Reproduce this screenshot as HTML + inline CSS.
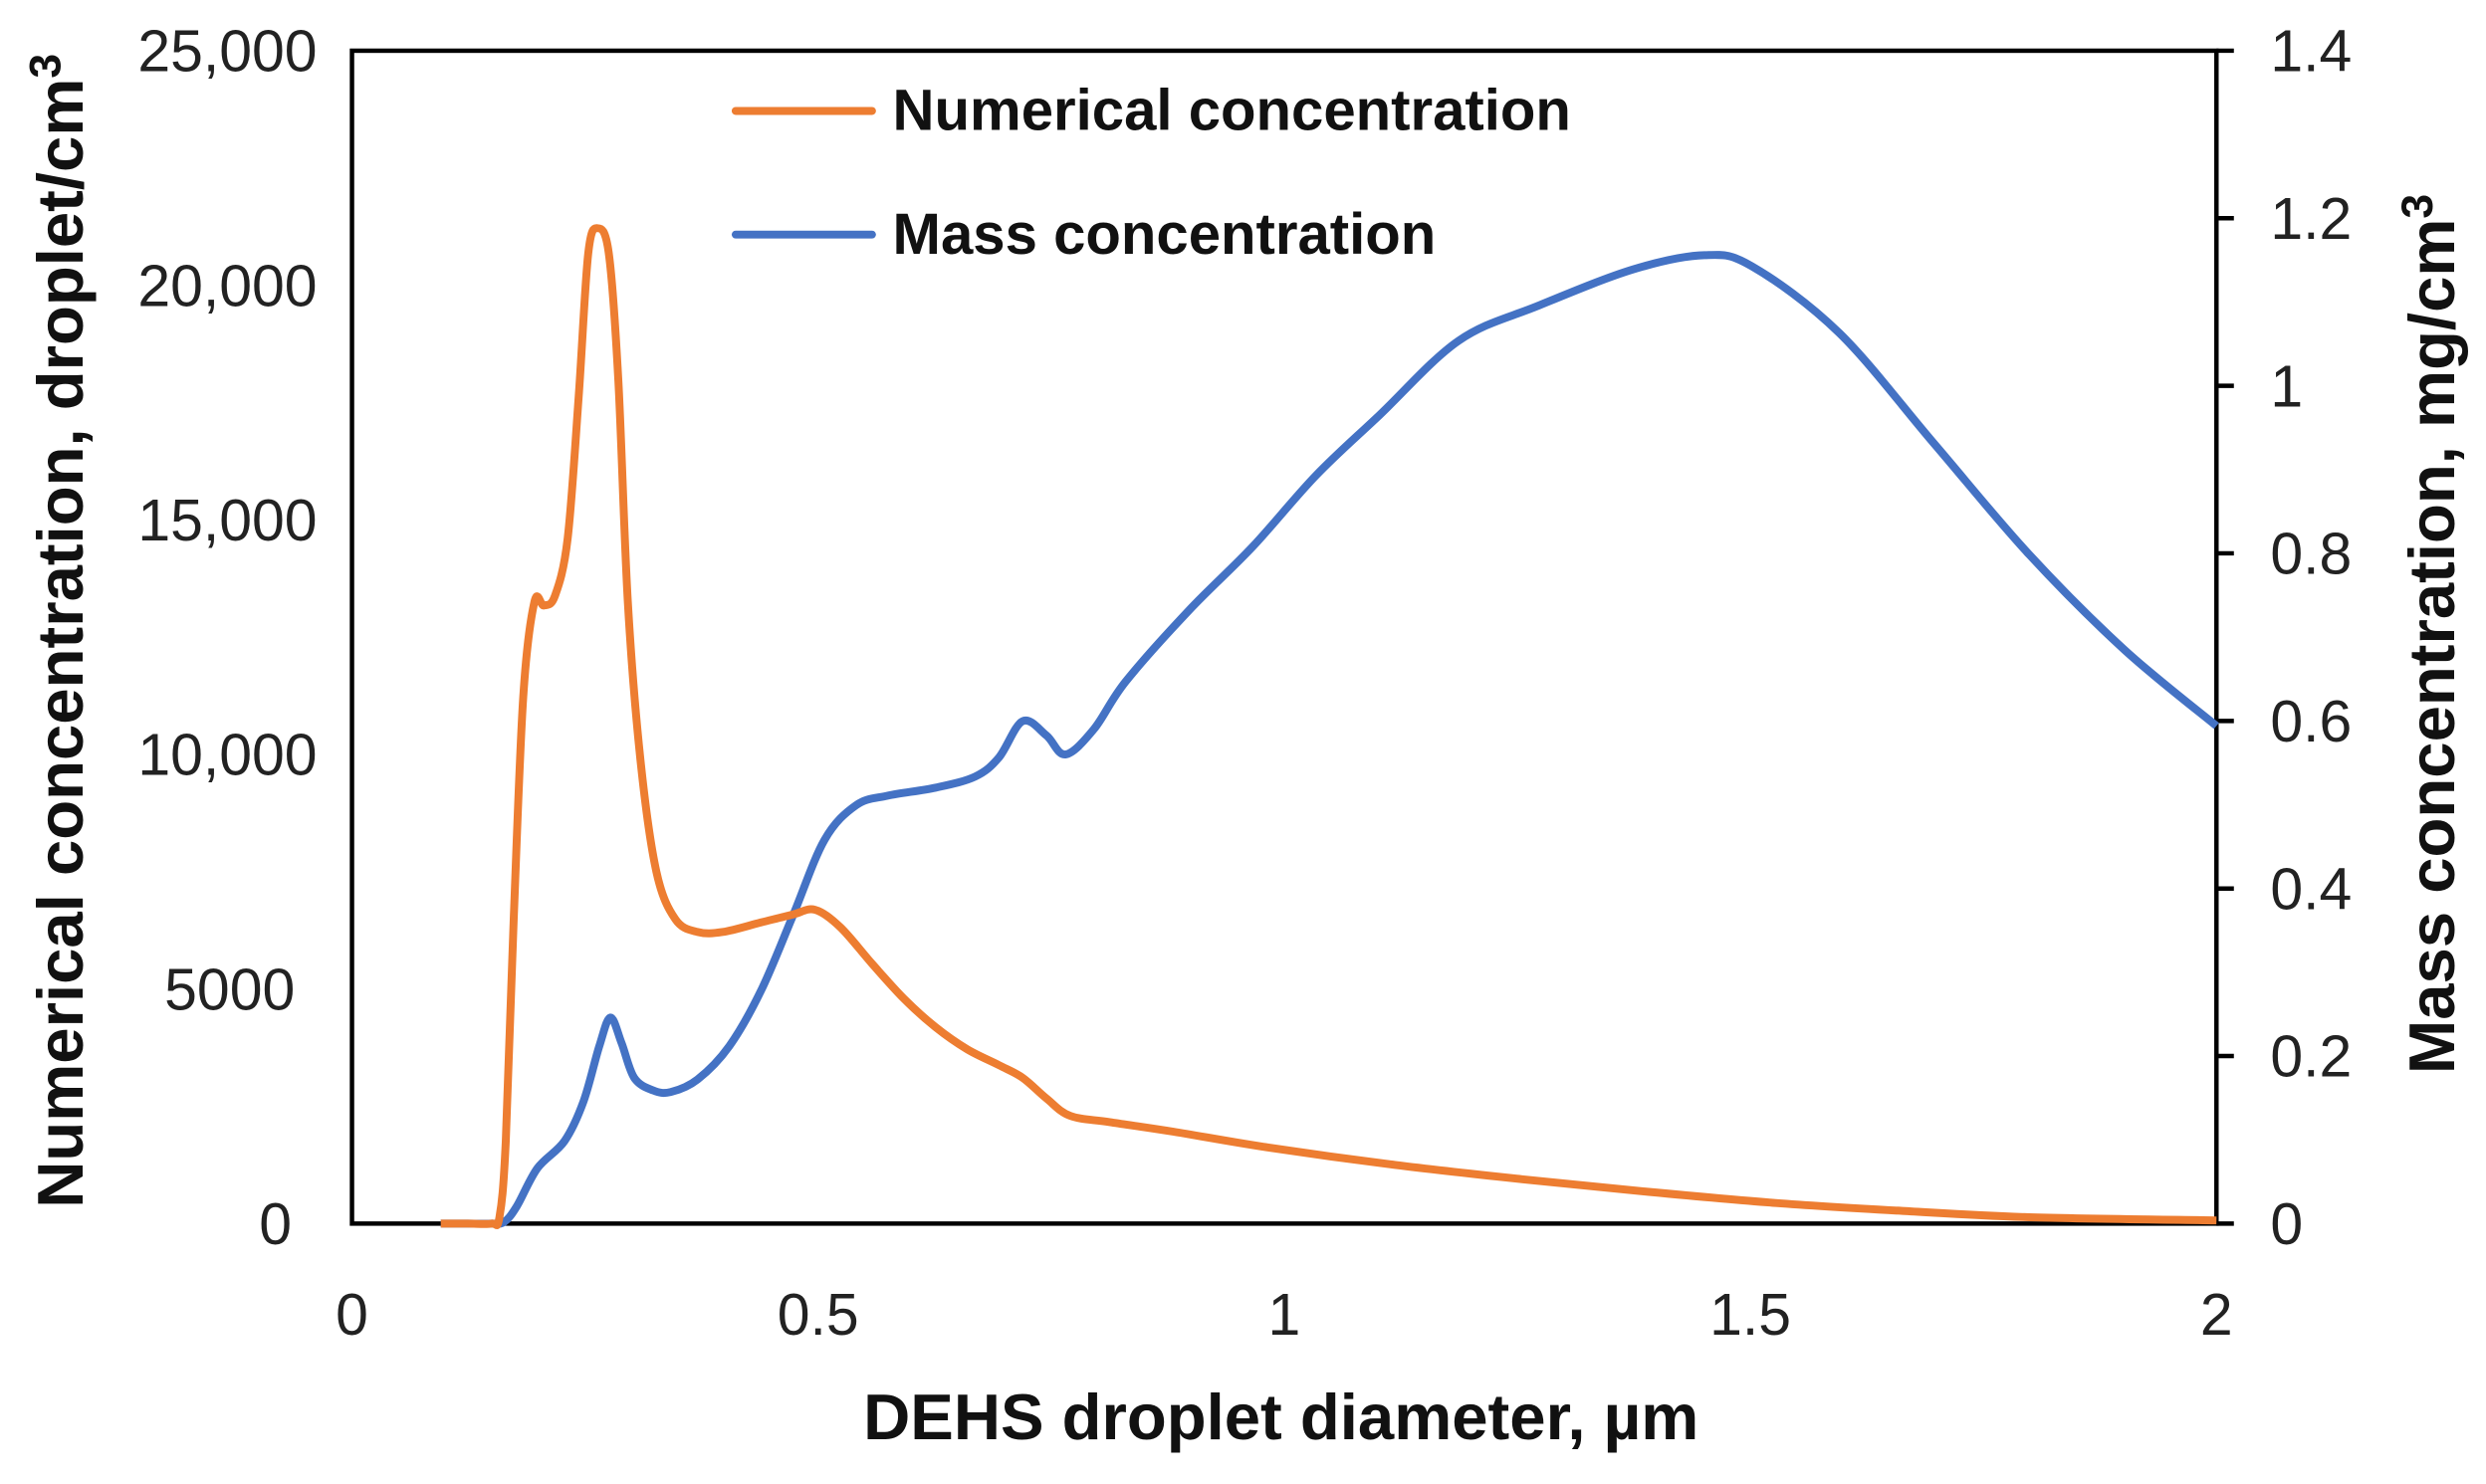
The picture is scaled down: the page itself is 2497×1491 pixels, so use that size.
<!DOCTYPE html>
<html><head><meta charset="utf-8"><style>
html,body{margin:0;padding:0;background:#fff;}
svg{display:block;}
text{font-family:"Liberation Sans",Arial,sans-serif;fill:#222;}
.t{font-size:37px;}
.b{font-size:41px;font-weight:bold;fill:#111;}
.l{font-size:36.5px;font-weight:bold;fill:#111;}
</style></head><body>
<svg id="s" width="2497" height="1491" viewBox="0 0 1568 936.3" xmlns="http://www.w3.org/2000/svg">
<rect x="0" y="0" width="1568" height="937" fill="#fff"/>
<g stroke="#000" stroke-width="2.8" fill="none">
<rect x="222" y="32" width="1176" height="740"/>
<path d="M1398 32h11M1398 137.7h11M1398 243.4h11M1398 349.1h11M1398 454.9h11M1398 560.6h11M1398 666.3h11M1398 772h11"/>
</g>
<g class="t" text-anchor="end">
<text x="200" y="45">25,000</text>
<text x="200" y="193">20,000</text>
<text x="200" y="341">15,000</text>
<text x="200" y="489">10,000</text>
<text x="186" y="637">5000</text>
<text x="184" y="785">0</text>
</g>
<g class="t">
<text x="1432" y="45">1.4</text>
<text x="1432" y="150.7">1.2</text>
<text x="1432" y="256.4">1</text>
<text x="1432" y="362.1">0.8</text>
<text x="1432" y="467.9">0.6</text>
<text x="1432" y="573.6">0.4</text>
<text x="1432" y="679.3">0.2</text>
<text x="1432" y="785">0</text>
</g>
<g class="t" text-anchor="middle">
<text x="222" y="842">0</text>
<text x="516" y="842">0.5</text>
<text x="810" y="842">1</text>
<text x="1104" y="842">1.5</text>
<text x="1398" y="842">2</text>
</g>
<text class="b" x="808" y="908" text-anchor="middle">DEHS droplet diameter, µm</text>
<text class="b" transform="translate(52,398) rotate(-90)" text-anchor="middle">Numerical concentration, droplet/cm<tspan dy="-14" font-size="28">3</tspan></text>
<text class="b" transform="translate(1548,400) rotate(-90)" text-anchor="middle">Mass concentration, mg/cm<tspan dy="-14" font-size="28">3</tspan></text>
<line x1="464" y1="70" x2="550" y2="70" stroke="#ED7D31" stroke-width="5" stroke-linecap="round"/>
<text class="l" x="563" y="82">Numerical concentration</text>
<line x1="464" y1="148" x2="550" y2="148" stroke="#4472C4" stroke-width="5" stroke-linecap="round"/>
<text class="l" x="563" y="160">Mass concentration</text>
<path id="blue" fill="none" stroke="#4472C4" stroke-width="5" stroke-linejoin="round"/>
<path id="orange" fill="none" stroke="#ED7D31" stroke-width="5" stroke-linejoin="round"/>
</svg>
<script>
function cr(p){var d="M"+p[0][0]+" "+p[0][1];for(var i=0;i<p.length-1;i++){var p0=p[i-1]||p[i],p1=p[i],p2=p[i+1],p3=p[i+2]||p2;var t=6;d+="C"+(p1[0]+(p2[0]-p0[0])/t)+" "+(p1[1]+(p2[1]-p0[1])/t)+" "+(p2[0]-(p3[0]-p1[0])/t)+" "+(p2[1]-(p3[1]-p1[1])/t)+" "+p2[0]+" "+p2[1];}return d;}
var O=[[278,772],[295,772],[310,772],[315,768],[319,720],[324,580],[330,440],[337,380],[343,382],[350,376],[358,340],[365,250],[371,160],[377,144],[384,160],[390,240],[396,380],[404,480],[414,550],[426,580],[440,588],[456,588],[480,582],[500,577],[514,574],[530,585],[550,608],[570,630],[590,648],[610,662],[630,672],[645,680],[660,693],[675,704],[700,708],[740,714],[800,724],[880,735],[960,744],[1040,752],[1120,759],[1200,764],[1280,768],[1398,770]];
var B=[[278,772],[295,772],[310,772],[318,771],[326,761],[339,737],[356,720],[368,695],[378,660],[385,642],[392,658],[400,680],[412,688],[423,689],[440,681],[460,660],[480,625],[500,578],[520,530],[540,508],[560,502],[590,497],[615,490],[630,478],[645,455],[660,464],[672,476],[690,460],[710,430],[750,385],[790,345],[830,300],[870,262],[920,215],[970,193],[1030,170],[1075,161],[1105,168],[1160,210],[1220,280],[1280,350],[1340,410],[1398,458]];
document.getElementById("orange").setAttribute("d",cr(O));
document.getElementById("blue").setAttribute("d",cr(B));
</script>
</body></html>
